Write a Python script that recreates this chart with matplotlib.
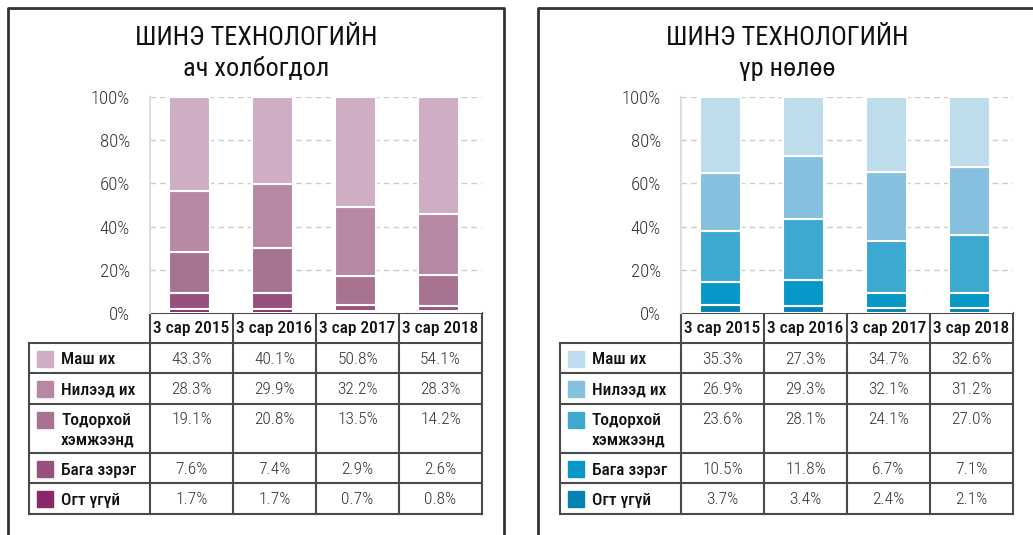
import matplotlib
matplotlib.use("Agg")
import numpy as np
import matplotlib.pyplot as plt
from matplotlib.patches import Rectangle

plt.rcParams['font.family'] = ['Roboto Condensed', 'Roboto', 'DejaVu Sans']

W, H = 1033, 535

periods = ["3 сар 2015", "3 сар 2016", "3 сар 2017", "3 сар 2018"]
levels = ["Маш их", "Нилээд их", "Тодорхой\nхэмжээнд", "Бага зэрэг", "Огт үгүй"]

# importance of new technology
importance = {
    "Маш их": [43.3, 40.1, 50.8, 54.1],
    "Нилээд их": [28.3, 29.9, 32.2, 28.3],
    "Тодорхой\nхэмжээнд": [19.1, 20.8, 13.5, 14.2],
    "Бага зэрэг": [7.6, 7.4, 2.9, 2.6],
    "Огт үгүй": [1.7, 1.7, 0.7, 0.8],
}
# effect of new technology
effect = {
    "Маш их": [35.3, 27.3, 34.7, 32.6],
    "Нилээд их": [26.9, 29.3, 32.1, 31.2],
    "Тодорхой\nхэмжээнд": [23.6, 28.1, 24.1, 27.0],
    "Бага зэрэг": [10.5, 11.8, 6.7, 7.1],
    "Огт үгүй": [3.7, 3.4, 2.4, 2.1],
}

purples = ["#cfaec5", "#b787a3", "#a87391", "#98507f", "#8a2769"]
blues = ["#bddcec", "#85c1df", "#3da8d0", "#0798c7", "#0582b4"]

panels = [
    dict(title="ШИНЭ ТЕХНОЛОГИЙН\nач холбогдол", data=importance, colors=purples,
         x0=150, x1=482, lab_x=29, cx=256),
    dict(title="ШИНЭ ТЕХНОЛОГИЙН\nүр нөлөө", data=effect, colors=blues,
         x0=681, x1=1013, lab_x=560, cx=787),
]

fig = plt.figure(figsize=(W / 100, H / 100), dpi=100)
over = fig.add_axes([0, 0, 1, 1])
over.set_xlim(0, W)
over.set_ylim(H, 0)
over.axis("off")

y_top, y_bot = 97, 313
row_edges = [343, 373, 404, 453, 483, 514]
grid_c = "#4a4a4a"

# panel frames (open at the bottom / right)
over.plot([8, 8, 504, 504], [540, 8, 8, 540], color="#333333", lw=2)
over.plot([538, 538, 1040], [540, 8, 8], color="#333333", lw=2)

for p in panels:
    x0, x1 = p["x0"], p["x1"]
    ax = fig.add_axes([x0 / W, 1 - y_bot / H, (x1 - x0) / W, (y_bot - y_top) / H])
    xs = np.arange(len(periods)) - 0.025
    bottom = np.zeros(len(periods))
    for lev, col in zip(levels[::-1], p["colors"][::-1]):
        vals = np.array(p["data"][lev])
        ax.bar(xs, vals, 0.5, bottom=bottom, color=col, edgecolor="white", linewidth=1.5, zorder=3)
        bottom += vals
    ax.set_xlim(-0.5, len(periods) - 0.5)
    ax.set_ylim(0, 100)
    ax.set_yticks(range(0, 101, 20))
    ax.set_yticklabels([f"{v}%" for v in range(0, 101, 20)], fontsize=13.5, color="#333333",
                       fontweight=300)
    ax.tick_params(axis="y", length=0, pad=14.5)
    ax.set_xticks([])
    ax.grid(axis="y", color="#cccccc", linestyle=(0, (4, 3)), lw=1, zorder=0)
    for s in ["top", "right", "bottom"]:
        ax.spines[s].set_visible(False)
    ax.spines["left"].set_color("#dddddd")
    ax.spines["left"].set_linewidth(1.5)

    t1, t2 = p["title"].split("\n")
    over.text(p["cx"], 38, t1, fontsize=19, ha="center", va="center", color="#111111")
    over.text(p["cx"], 69, t2, fontsize=19, ha="center", va="center", color="#111111")

    # table
    cols = np.linspace(x0, x1, len(periods) + 1)
    lx = p["lab_x"]
    over.plot([x0, x1], [y_bot, y_bot], color=grid_c, lw=1.5)
    for c in cols:
        over.plot([c, c], [y_bot, row_edges[-1]], color=grid_c, lw=1.5)
    over.plot([lx, lx], [row_edges[0], row_edges[-1]], color=grid_c, lw=1.5)
    for r in row_edges:
        over.plot([lx, x1], [r, r], color=grid_c, lw=1.5)
    for i, per in enumerate(periods):
        over.text((cols[i] + cols[i + 1]) / 2, (y_bot + row_edges[0]) / 2 + 1, per,
                  fontsize=12.5, ha="center", va="center", color="#111111", fontweight=500)
    for r, (lev, col) in enumerate(zip(levels, p["colors"])):
        yc = row_edges[r] + 16
        over.add_patch(Rectangle((lx + 8, yc - 8), 16, 16, color=col))
        for k, ln in enumerate(lev.split("\n")):
            over.text(lx + 32, yc + 1 + k * 19, ln, fontsize=12.5, ha="left", va="center",
                      color="#111111", fontweight=500)
        for i, v in enumerate(p["data"][lev]):
            over.text((cols[i] + cols[i + 1]) / 2, yc, f"{v:.1f}%", fontsize=12.5,
                      ha="center", va="center", color="#333333", fontweight=300)

fig.savefig("out.png", dpi=100)
